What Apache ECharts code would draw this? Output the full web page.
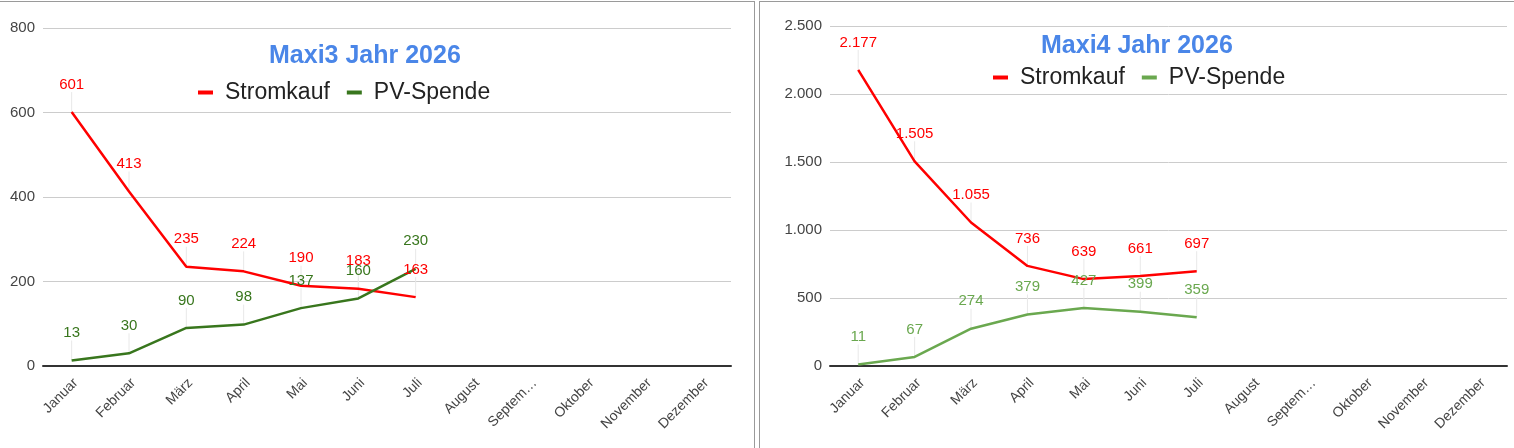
<!DOCTYPE html>
<html>
<head>
<meta charset="utf-8">
<script src="https://cdn.jsdelivr.net/npm/echarts@6/dist/echarts.min.js"></script>
<style>
  html, body { margin: 0; padding: 0; background: #fff; }
  body { width: 1514px; height: 448px; position: relative; overflow: hidden; }
  #c1 { position: absolute; left: 0; top: 0; width: 754px; height: 448px; }
  #c2 { position: absolute; left: 760px; top: 0; width: 754px; height: 448px; }
  .ln { position: absolute; background: #9a9a9a; }
</style>
</head>
<body>
<div id="c1"></div>
<div id="c2"></div>
<div class="ln" style="left:0;top:1px;width:755px;height:1px;"></div>
<div class="ln" style="left:754px;top:1px;width:1px;height:447px;"></div>
<div class="ln" style="left:759px;top:1px;width:755px;height:1px;"></div>
<div class="ln" style="left:759px;top:1px;width:1px;height:447px;"></div>
<script>
const months = ['Januar','Februar','März','April','Mai','Juni','Juli','August','September','Oktober','November','Dezember'];
const maxi3Strom = [601, 413, 235, 224, 190, 183, 163];
const maxi3PV = [13, 30, 90, 98, 137, 160, 230];
const maxi4Strom = [2177, 1505, 1055, 736, 639, 661, 697];
const maxi4PV = [11, 67, 274, 379, 427, 399, 359];

const FONT = 'Liberation Sans, Arial, sans-serif';
function de(v) {
  return String(Math.round(v)).replace(/\B(?=(\d{3})+(?!\d))/g, '.');
}
function stemSeries(data) {
  return {
    type: 'custom',
    silent: true,
    z: 1,
    data: data.map((v, i) => [i, v]),
    renderItem: function (params, api) {
      const p = api.coord([api.value(0), api.value(1)]);
      return {
        type: 'line',
        shape: { x1: p[0], y1: p[1], x2: p[0], y2: p[1] - 20 },
        style: { stroke: '#e8e8e8', lineWidth: 1 }
      };
    }
  };
}
function lineSeries(name, data, color) {
  return {
    name: name,
    type: 'line',
    data: data,
    symbol: 'circle',
    symbolSize: 0,
    z: 3,
    lineStyle: { color: color, width: 2.5 },
    itemStyle: { color: color },
    label: {
      show: true,
      position: 'top',
      distance: 20,
      color: color,
      fontFamily: FONT,
      fontSize: 15,
      formatter: p => de(p.value)
    }
  };
}
function makeOption(cfg) {
  return {
    animation: false,
    textStyle: { fontFamily: FONT },
    title: {
      text: cfg.title,
      left: cfg.titleLeft,
      top: cfg.titleTop,
      textStyle: { color: '#4a86e8', fontSize: 25, fontWeight: 'bold', fontFamily: FONT }
    },
    legend: {
      left: cfg.legendLeft,
      top: cfg.legendTop,
      icon: 'rect',
      itemWidth: 15,
      itemHeight: 4,
      itemGap: 17,
      textStyle: { color: '#222', fontSize: 23, fontFamily: FONT, padding: [0, 0, 0, 7] },
      data: ['Stromkauf', 'PV-Spende']
    },
    grid: { left: cfg.gridLeft, right: cfg.gridRight, top: cfg.gridTop, bottom: 82, containLabel: false },
    xAxis: {
      type: 'category',
      data: months,
      boundaryGap: true,
      axisTick: { show: false },
      axisLine: { lineStyle: { color: '#333', width: 2 } },
      axisLabel: {
        rotate: 45,
        interval: 0,
        color: '#444',
        fontSize: 14,
        fontFamily: FONT,
        margin: 19,
        padding: [0, -6, 0, 0],
        formatter: v => v.length > 8 ? v.slice(0, 6) + '…' : v
      }
    },
    yAxis: {
      type: 'value',
      min: 0,
      max: cfg.max,
      interval: cfg.interval,
      axisLine: { show: false },
      axisTick: { show: false },
      splitLine: { lineStyle: { color: '#cccccc', width: 1 } },
      axisLabel: { color: '#444', fontSize: 15, fontFamily: FONT, margin: 8, formatter: v => de(v) }
    },
    series: [
      stemSeries(cfg.strom),
      stemSeries(cfg.pv),
      lineSeries('Stromkauf', cfg.strom, '#ff0000'),
      lineSeries('PV-Spende', cfg.pv, cfg.pvColor)
    ]
  };
}

const c1 = echarts.init(document.getElementById('c1'));
c1.setOption(makeOption({
  title: 'Maxi3 Jahr 2026', titleLeft: 264, titleTop: 39,
  legendLeft: 193, legendTop: 76,
  gridLeft: 43, gridRight: 23, gridTop: 28,
  max: 800, interval: 200,
  strom: maxi3Strom, pv: maxi3PV, pvColor: '#38761d'
}));
const c2 = echarts.init(document.getElementById('c2'));
c2.setOption(makeOption({
  title: 'Maxi4 Jahr 2026', titleLeft: 276, titleTop: 29,
  legendLeft: 228, legendTop: 61,
  gridLeft: 70, gridRight: 7, gridTop: 26,
  max: 2500, interval: 500,
  strom: maxi4Strom, pv: maxi4PV, pvColor: '#6aa84f'
}));
</script>
</body>
</html>
